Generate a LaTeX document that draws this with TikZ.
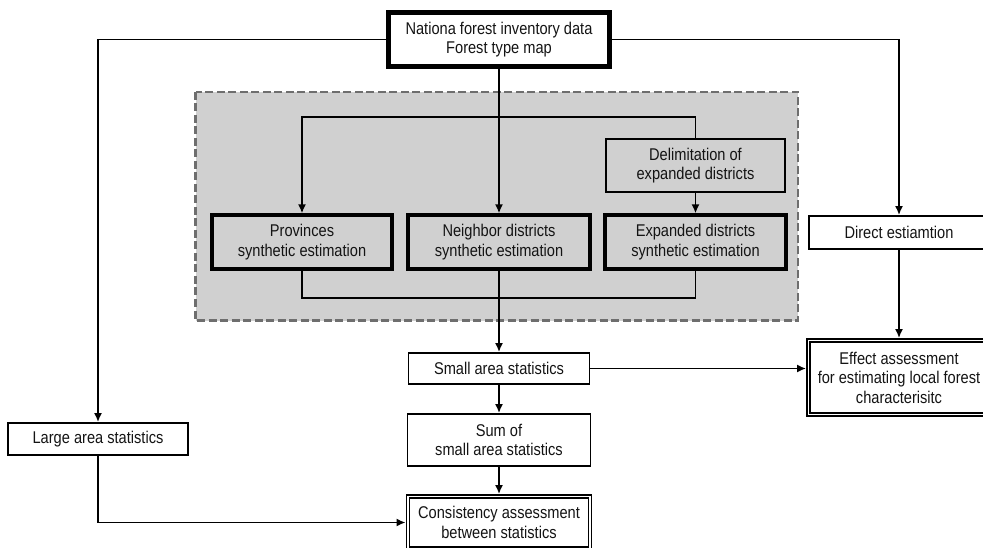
\documentclass[tikz,border=0pt]{standalone}
\usepackage{fontspec}
\setmainfont[FakeStretch=0.86]{Liberation Sans}
\usetikzlibrary{arrows.meta,calc}
\definecolor{panelgray}{HTML}{D0D0D0}
\definecolor{dashgray}{HTML}{6E6E6E}
\definecolor{inkc}{HTML}{141414}
\begin{document}
\begin{tikzpicture}[x=1pt,y=-1pt,
  every node/.style={font=\fontsize{17}{19.5}\selectfont, text=inkc, align=center, inner sep=0pt},
  plainbox/.style={draw=black, line width=1.8pt, fill=white},
  thickbox/.style={draw=black, line width=3.2pt, fill=panelgray},
  graybox/.style={draw=black, line width=1.8pt, fill=panelgray},
  dblbox/.style={draw=black, line width=1.8pt, fill=white},
  topbox/.style={draw=black, line width=3.2pt, fill=white},
  conn/.style={draw=black, line width=1.8pt},
  arr/.style={conn, -{Latex[length=9pt,width=8pt]}}]
\useasboundingbox (0,0) rectangle (983,548);
% grey panel
\filldraw[fill=panelgray, draw=dashgray, line width=2.8pt, dash pattern=on 8pt off 3.5pt]
  (195.5,92) rectangle (798,320.5);
% nodes
\node[topbox, minimum width=222pt, minimum height=55pt] (top) at (499,39.5) {Nationa forest inventory data\\Forest type map};
\draw[line width=1.1pt] ($(top.north west)+(4.5,4.5)$) rectangle ($(top.south east)+(-4.5,-4.5)$);
\node[graybox, minimum width=179pt, minimum height=53pt] (delim) at (695.5,165.5) {Delimitation of\\expanded districts};
\node[thickbox, minimum width=180pt, minimum height=54pt] (prov) at (302,242) {Provinces\\synthetic estimation};
\node[thickbox, minimum width=182pt, minimum height=54pt] (neigh) at (499,242) {Neighbor districts\\synthetic estimation};
\node[thickbox, minimum width=181pt, minimum height=54pt] (expd) at (695.5,242) {Expanded districts\\synthetic estimation};
\node[plainbox, minimum width=180pt, minimum height=33pt] (direct) at (899,232.5) {Direct estiamtion};
\node[plainbox, minimum width=181pt, minimum height=31pt] (small) at (499,368.5) {Small area statistics};
\node[dblbox, minimum width=184pt, minimum height=77pt] (effect) at (899,377.5) {Effect assessment\\for estimating local forest\\characterisitc};
\draw[line width=1.5pt] ($(effect.north west)+(4,4)$) rectangle ($(effect.south east)+(-4,-4)$);
\node[plainbox, minimum width=183pt, minimum height=52pt] (sum) at (499,440) {Sum of\\small area statistics};
\node[plainbox, minimum width=180pt, minimum height=32pt] (large) at (98,439) {Large area statistics};
\node[dblbox, minimum width=185pt, minimum height=55pt] (cons) at (499,522.5) {Consistency assessment\\between statistics};
\draw[line width=1.5pt] ($(cons.north west)+(4,4)$) rectangle ($(cons.south east)+(-4,-4)$);
% helper coordinates
\coordinate (tl) at (0,117);
\coordinate (bl) at (0,298);
% connectors
\draw[arr] (top.west) -| (large.north);
\draw[arr] (top.east) -| (direct.north);
\draw[arr] (top.south) -- (neigh.north);
\draw[arr] (delim.north) -- (delim.north |- tl) -| (prov.north);
\draw[arr] (delim.south) -- (expd.north);
\draw[conn] (prov.south) -- (prov.south |- bl) -- (expd.south |- bl) -- (expd.south);
\draw[arr] (neigh.south) -- (small.north);
\draw[arr] (direct.south) -- (effect.north);
\draw[arr] (small.east) -- (small.east -| effect.west);
\draw[arr] (small.south) -- (sum.north);
\draw[arr] (sum.south) -- (cons.north);
\draw[arr] (large.south) |- (cons.west);
\end{tikzpicture}
\end{document}
